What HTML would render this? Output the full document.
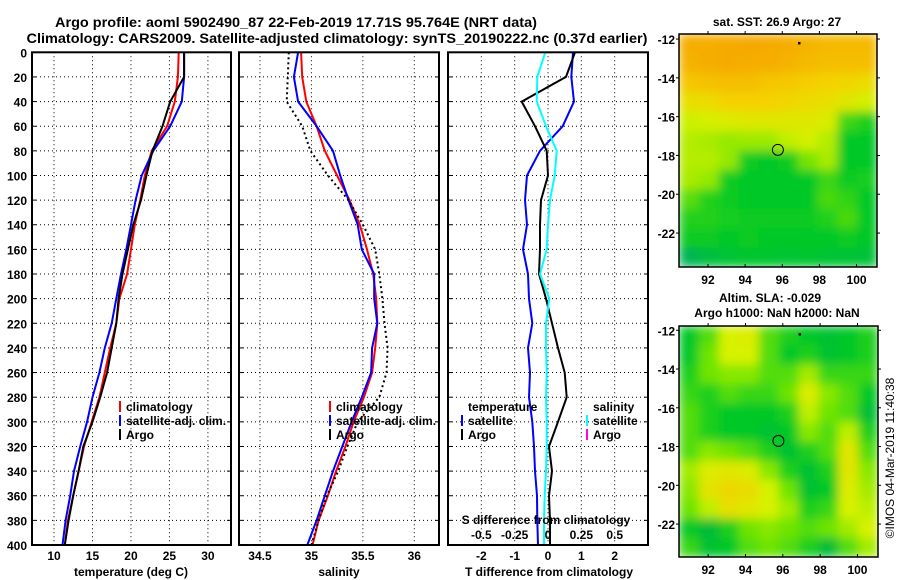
<!DOCTYPE html>
<html><head><meta charset="utf-8">
<style>
html,body{margin:0;padding:0;background:#fff;}
svg{display:block;font-family:"Liberation Sans",Arial,sans-serif;font-weight:bold;}
</style></head>
<body>
<svg id="fig" width="900" height="580" viewBox="0 0 900 580" xmlns="http://www.w3.org/2000/svg">
<text x="296" y="27" font-size="14" text-anchor="middle" textLength="482" lengthAdjust="spacingAndGlyphs">Argo profile: aoml 5902490_87 22-Feb-2019 17.71S 95.764E (NRT data)</text>
<text x="337" y="43" font-size="14" text-anchor="middle" textLength="621" lengthAdjust="spacingAndGlyphs">Climatology: CARS2009. Satellite-adjusted climatology: synTS_20190222.nc (0.37d earlier)</text>
<g id="maps"></g>
<g id="panels"></g>
</svg>
<script>
// ---- data ----
const depths = [0,20,40,60,80,100,120,140,160,180,200,220,240,260,280,300,320,340,360,380,400];
const tempClim = [26.2,26.1,25.7,24.7,22.7,21.8,21.2,20.5,20.0,19.5,18.5,18.1,17.3,16.6,15.9,14.9,13.9,13.2,12.5,11.8,11.4];
const tempSat  = [26.9,26.9,26.6,25.1,22.9,21.4,20.6,20.0,19.4,18.7,18.1,17.5,16.6,15.9,15.0,14.3,13.4,12.6,12.1,11.5,11.1];
const tempArgo = [26.9,26.9,25.1,24.1,22.8,22.0,21.3,20.3,19.6,18.9,18.4,18.1,17.5,16.9,16.0,15.0,13.8,13.2,12.5,11.9,11.4];
const salClim = [34.90,34.91,34.95,35.05,35.13,35.25,35.37,35.47,35.54,35.60,35.63,35.64,35.62,35.59,35.51,35.41,35.33,35.24,35.16,35.07,35.01];
const salSat  = [34.87,34.83,34.87,35.05,35.21,35.28,35.36,35.45,35.49,35.61,35.61,35.64,35.59,35.58,35.49,35.39,35.30,35.21,35.13,35.05,34.96];
const salArgo = [34.78,34.77,34.76,34.91,34.99,35.16,35.36,35.50,35.62,35.66,35.69,35.71,35.74,35.73,35.66,35.45,35.35,35.26,35.15,35.07,35.00];
const tDiffSat  = [0.75,0.70,0.78,0.44,-0.24,-0.63,-0.69,-0.63,-0.75,-0.60,-0.57,-0.47,-0.60,-0.54,-0.57,-0.47,-0.42,-0.39,-0.33,-0.32,-0.30];
const tDiffArgo = [0.81,0.54,-0.79,-0.39,-0.04,0.00,-0.21,-0.24,-0.24,-0.27,-0.06,0.12,0.30,0.50,0.56,0.30,0.03,0.12,0.03,0.06,0.06];
const sDiffSat  = [-0.02,-0.08,-0.085,-0.015,0.065,0.05,0.015,0,-0.01,-0.06,0.01,-0.015,-0.015,-0.01,-0.015,-0.01,-0.01,-0.015,-0.025,-0.03,-0.03];
const depthTicks = [0,20,40,60,80,100,120,140,160,180,200,220,240,260,280,300,320,340,360,380,400];
const tempTicks = [10,15,20,25,30];
const salTicks = [34.5,35,35.5,36];
const tDiffTicks = [-2,-1,0,1,2];
const sDiffTicks = [-0.5,-0.25,0,0.25,0.5];
const sDiffTickLabels = ["-0.5","-0.25","0","0.25","0.5"];
const lonTicks = [92,94,96,98,100];
const latTicks = [-12,-14,-16,-18,-20,-22];
const argoLon = 95.764, argoLat = -17.71;
// SST map grid (normalized 0..1), rows from -12 to -23.75, 10 cols from 90.44E
const sstGrid = [
[.95,.95,.96,.97,.96,.95,.92,.9,.9,.9],
[.93,.95,.96,.95,.95,.93,.9,.88,.88,.88],
[.85,.87,.88,.88,.85,.84,.82,.8,.78,.76],
[.74,.76,.8,.8,.8,.78,.76,.74,.7,.66],
[.64,.66,.68,.7,.7,.7,.7,.68,.4,.35],
[.6,.58,.55,.56,.56,.62,.66,.6,.3,.3],
[.6,.6,.55,.32,.3,.32,.5,.58,.3,.3],
[.58,.55,.32,.3,.3,.3,.3,.4,.32,.34],
[.45,.36,.32,.3,.3,.3,.3,.42,.38,.3],
[.36,.36,.34,.32,.32,.32,.32,.36,.42,.3],
[.32,.32,.3,.32,.3,.3,.3,.3,.32,.3],
[.15,.22,.26,.28,.28,.27,.28,.26,.26,.25]];
// SLA map grid (normalized 0..1)
const slaGrid = [
[.3,.45,.7,.75,.45,.35,.3,.25,.3,.35],
[.3,.5,.7,.7,.45,.3,.35,.25,.3,.35],
[.35,.5,.55,.55,.45,.45,.6,.4,.4,.4],
[.4,.35,.45,.4,.4,.5,.75,.55,.45,.3],
[.45,.35,.3,.3,.3,.35,.65,.5,.45,.22],
[.45,.35,.3,.3,.25,.3,.55,.45,.65,.35],
[.45,.55,.5,.45,.35,.25,.35,.45,.8,.45],
[.6,.75,.8,.75,.55,.35,.25,.35,.8,.55],
[.55,.82,.92,.88,.7,.5,.25,.3,.75,.6],
[.5,.65,.85,.8,.7,.6,.35,.4,.7,.65],
[.3,.2,.35,.5,.55,.5,.45,.5,.6,.7],
[.4,.25,.3,.45,.5,.45,.35,.2,.45,.6]];

const NS="http://www.w3.org/2000/svg";
function mk(tag,attrs,parent){const e=document.createElementNS(NS,tag);for(const k in attrs)e.setAttribute(k,attrs[k]);parent.appendChild(e);return e;}
const panels=document.getElementById('panels');
const maps=document.getElementById('maps');

const Y0=52.3, Y1=545;
const yD = d => Y0 + d*(Y1-Y0)/400;

function makePanel(name,x0,x1,dmin,dmax){
  const g=mk('g',{},panels);
  
  
  const sx = v => x0 + (v-dmin)*(x1-x0)/(dmax-dmin);
  return {g,sx,x0,x1};
}
function grid(p,vTicks){
  depthTicks.slice(1,-1).forEach(d=>{
    const l=mk('line',{x1:p.x0,x2:p.x1,y1:yD(d),y2:yD(d),stroke:'#000','stroke-width':1,'stroke-dasharray':'1,3'},p.g);
    
    
    [p.x0,p.x1-4].forEach(x=>mk('line',{x1:x,x2:x+4,y1:yD(d),y2:yD(d),stroke:'#000'},p.g));
  });
  vTicks.forEach(v=>{
    const x=p.sx(v);
    const l=mk('line',{x1:x,x2:x,y1:Y0,y2:Y1,stroke:'#000','stroke-width':1,'stroke-dasharray':'1,3'},p.g);
    
    
  });
}
function frame(p){
  const r=mk('rect',{x:p.x0,y:Y0,width:p.x1-p.x0,height:Y1-Y0,fill:'none',stroke:'#000','stroke-width':2},p.g);
  
  
}
function line(p,vals,color,name,w,dash){
  const pts=vals.map((v,i)=>p.sx(v).toFixed(1)+','+yD(depths[i]).toFixed(1)).join(' ');
  const a={points:pts,fill:'none',stroke:color,'stroke-width':w||2,'stroke-linejoin':'round'};
  if(dash)a['stroke-dasharray']=dash;
  const e=mk('polyline',a,p.g);
  
  
}
function xlabels(p,ticks,labels,y,name){
  ticks.forEach((v,i)=>{
    const t=mk('text',{x:p.sx(v),y:y,'font-size':12,'text-anchor':'middle'},p.g);
    t.textContent=labels?labels[i]:String(v);
    
    
  });
}
function txt(parent,x,y,s,str,name,anchor){
  const t=mk('text',{x:x,y:y,'font-size':s,'text-anchor':anchor||'start'},parent);
  t.textContent=str;
  
  
  return t;
}
function legendEntry(g,x,y,color,label){
  const l=mk('line',{x1:x,x2:x,y1:y-10,y2:y+1,stroke:color,'stroke-width':2},g);
  
  
  txt(g,x+6,y,12,label,'legend-entry');
}

// Panel 1: temperature
const p1=makePanel('temperature-panel',32,231,7.14,33);
grid(p1,tempTicks);
line(p1,tempClim,'#f00','climatology-temperature-line');
line(p1,tempSat,'#00f','satellite-temperature-line');
line(p1,tempArgo,'#000','argo-temperature-line');
frame(p1);
xlabels(p1,tempTicks,null,560,'temperature-tick-label');
txt(p1.g,131,576,12,'temperature (deg C)','x-axis-title','middle');
depthTicks.forEach(d=>txt(p1.g,27,yD(d)+5,12,String(d),'depth-tick-label','end'));
legendEntry(p1.g,120,411,'#f00','climatology');
legendEntry(p1.g,120,425,'#00f','satellite-adj. clim.');
legendEntry(p1.g,120,439,'#000','Argo');

// Panel 2: salinity
const p2=makePanel('salinity-panel',239,439,34.296,36.24);
grid(p2,salTicks);
line(p2,salClim,'#f00','climatology-salinity-line');
line(p2,salSat,'#00f','satellite-salinity-line');
line(p2,salArgo,'#000','argo-salinity-line',2,'2,3');
frame(p2);
xlabels(p2,salTicks,null,560,'salinity-tick-label');
txt(p2.g,339,576,12,'salinity','x-axis-title','middle');
legendEntry(p2.g,330,411,'#f00','climatology');
legendEntry(p2.g,330,425,'#00f','satellite-adj. clim.');
legendEntry(p2.g,330,439,'#000','Argo');

// Panel 3: differences
const p3=makePanel('difference-panel',448,648,-3,3);
const p3s={g:p3.g,sx:v=>548+v*(100/0.75),x0:448,x1:648};
grid(p3,tDiffTicks);
line(p3,tDiffSat,'#00f','satellite-temperature-difference-line');
line(p3,tDiffArgo,'#000','argo-temperature-difference-line');
line(p3s,sDiffSat,'#0ff','satellite-salinity-difference-line');
frame(p3);
xlabels(p3,tDiffTicks,null,560,'t-difference-tick-label');
txt(p3.g,549,576,12,'T difference from climatology','x-axis-title','middle');
txt(p3.g,546,524,12,'S difference from climatology','s-difference-axis-title','middle');
xlabels(p3s,sDiffTicks,sDiffTickLabels,539,'s-difference-tick-label');
txt(p3.g,468,411,12,'temperature','legend-title');
legendEntry(p3.g,462,425,'#00f','satellite');
legendEntry(p3.g,462,439,'#000','Argo');
txt(p3.g,593,411,12,'salinity','legend-title');
legendEntry(p3.g,587,425,'#0ff','satellite');
legendEntry(p3.g,587,439,'#f0f','Argo');

// ---- maps ----
function lerp(a,b,t){return a.map((v,i)=>Math.round(v+(b[i]-v)*t));}
function cmap(stops,v){
  for(let i=0;i<stops.length-1;i++){
    if(v<=stops[i+1][0]){const t=(v-stops[i][0])/(stops[i+1][0]-stops[i][0]);const c=lerp(stops[i][1],stops[i+1][1],Math.max(0,Math.min(1,t)));return 'rgb('+c.join(',')+')';}
  }
  return 'rgb('+stops[stops.length-1][1].join(',')+')';
}
const sstStops=[[0,[0,160,130]],[0.3,[0,200,40]],[0.5,[120,228,0]],[0.65,[210,242,0]],[0.8,[245,210,0]],[1,[245,160,0]]];
const slaStops=[[0,[0,160,90]],[0.3,[0,200,40]],[0.5,[110,228,0]],[0.7,[215,242,0]],[1,[245,205,0]]];

function makeMap(name,fx0,fy0,fx1,fy1,lon0,lon1,lat0,lat1,gridVals,stops,titles){
  const g=mk('g',{},maps);
  
  
  const sx=lon=>fx0+(lon-lon0)*(fx1-fx0)/(lon1-lon0);
  const sy=lat=>fy0+(lat0-lat)*(fy1-fy0)/(lat0-lat1);
  const id='blur'+name;
  const f=mk('filter',{id:id,x:'0',y:'0',width:'1',height:'1'},g);
  mk('feGaussianBlur',{stdDeviation:'5',edgeMode:'duplicate'},f);
  const cg=mk('g',{filter:'url(#'+id+')'},g);
  const rows=gridVals.length, cols=gridVals[0].length;
  const cw=(lon1-lon0)/cols, ch=(lat0-lat1)/rows;
  gridVals.forEach((row,r)=>row.forEach((v,c)=>{
    const x=sx(lon0+c*cw), y=sy(lat0-r*ch);
    const e=mk('rect',{x:x,y:y,width:sx(lon0+(c+1)*cw)-x+0.5,height:sy(lat0-(r+1)*ch)-y+0.5,fill:cmap(stops,v)},cg);
    
    
  }));
  const fr=mk('rect',{x:fx0,y:fy0,width:fx1-fx0,height:fy1-fy0,fill:'none',stroke:'#000','stroke-width':1.5},g);
  
  
  lonTicks.forEach(l=>{mk('line',{x1:sx(l),x2:sx(l),y1:fy1,y2:fy1-3,stroke:'#000'},g);mk('line',{x1:sx(l),x2:sx(l),y1:fy0,y2:fy0-3,stroke:'#000'},g);txt(g,sx(l),fy1+17,12,String(l),'longitude-tick-label','middle');});
  latTicks.forEach(l=>{mk('line',{x1:fx0-3,x2:fx0,y1:sy(l),y2:sy(l),stroke:'#000'},g);mk('line',{x1:fx1,x2:fx1+3,y1:sy(l),y2:sy(l),stroke:'#000'},g);txt(g,fx0-4,sy(l)+5,12,String(l),'latitude-tick-label','end');});
  const c=mk('circle',{cx:sx(argoLon),cy:sy(argoLat),r:5.5,fill:'none',stroke:'#000','stroke-width':1},g);
  
  
  mk('rect',{x:sx(96.9)-1,y:sy(-12.2)-1,width:2.5,height:2.5,fill:'#000'},g);
  titles.forEach(t=>txt(g,t[0],t[1],12,t[2],'map-title','middle'));
}
makeMap('sst-map',679,34,877,267,90.44,101.1,-11.74,-23.75,sstGrid,sstStops,[[777,26,'sat. SST: 26.9 Argo: 27']]);
makeMap('sla-map',679,326,878,557,90.44,101.1,-11.78,-23.7,slaGrid,slaStops,[[770,302,'Altim. SLA: -0.029'],[777,317,'Argo h1000: NaN h2000: NaN']]);
const stamp=txt(maps,0,0,12,'©IMOS 04-Mar-2019 11:40:38','imos-timestamp','middle');
stamp.setAttribute('transform','translate(894,458) rotate(-90)');
stamp.setAttribute('font-weight','normal');
</script>
</body></html>
